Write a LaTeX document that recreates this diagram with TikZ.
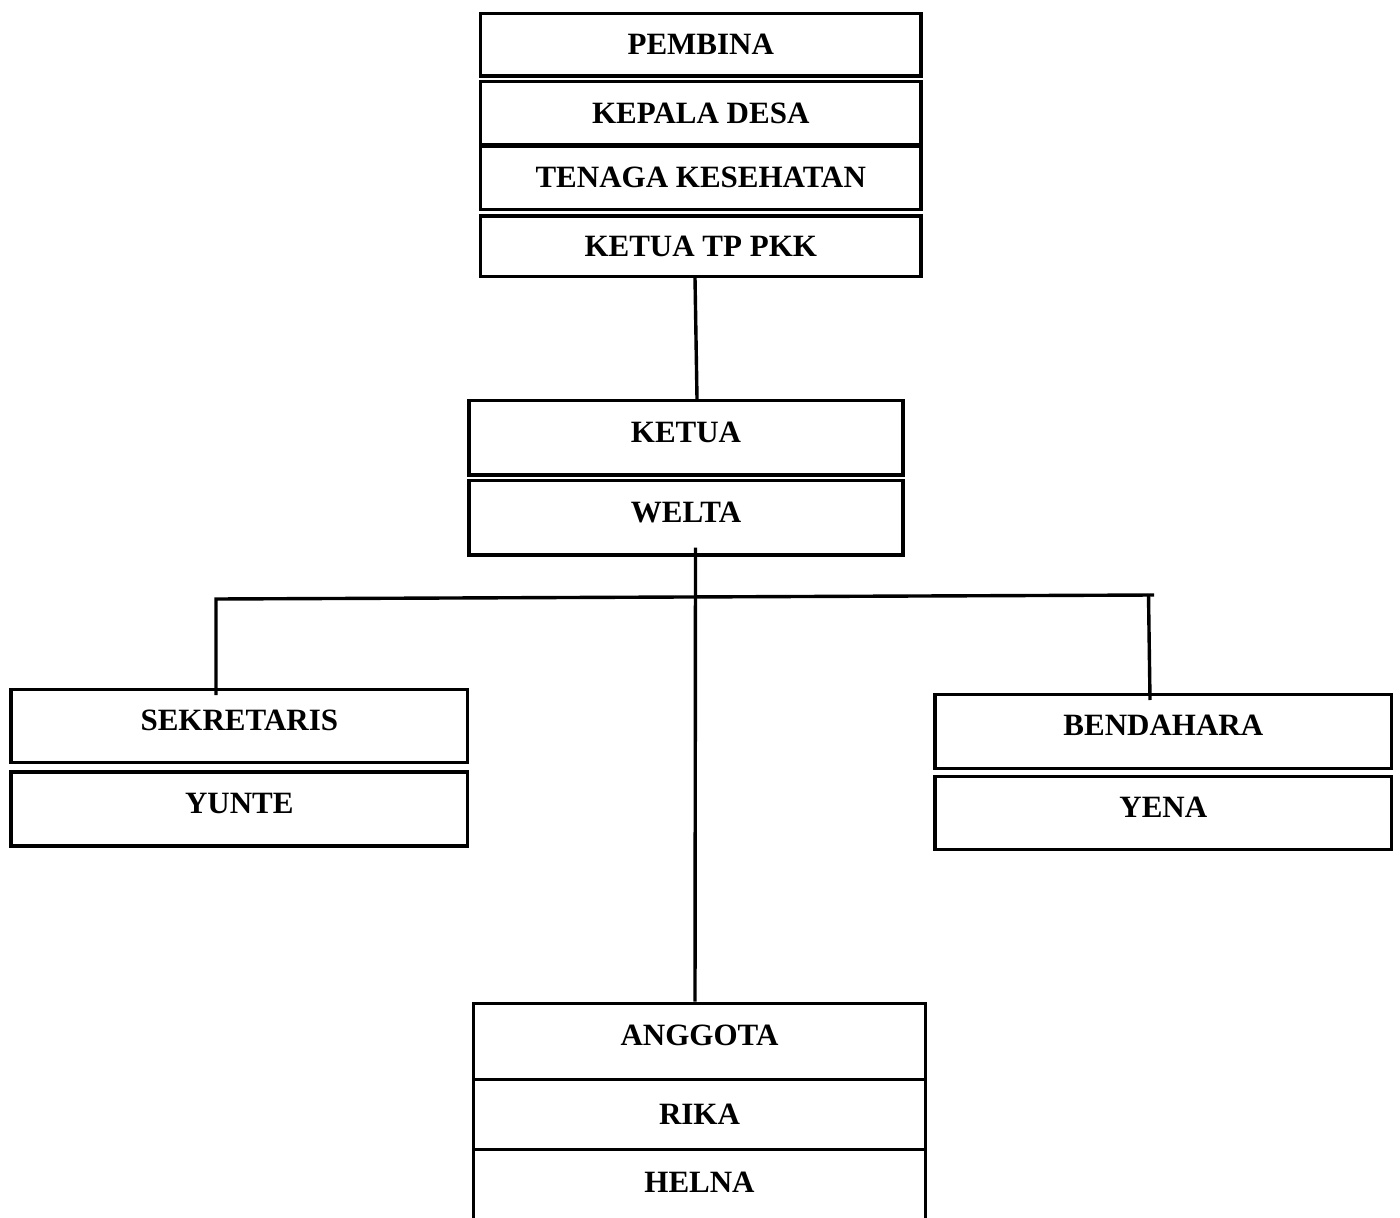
\documentclass[tikz,border=0pt]{standalone}
\usepackage{fontspec}
\setmainfont{Liberation Serif}

\begin{document}
\begin{tikzpicture}[x=0.5pt,y=-0.5pt,line width=1.7pt,
  every node/.style={font=\fontsize{15.5}{18}\selectfont\bfseries,inner sep=0pt},
  kotak/.style={draw,rectangle,minimum width=#1},
  naik/.style={text depth=6pt}]
\useasboundingbox (0,0) rectangle (1400,1218);
% pembina
\node[kotak=220.25pt,minimum height=31.25pt] (pembina) at (700.75,44.75) {PEMBINA};
\node[kotak=220.25pt,minimum height=31.75pt] (kades) at (700.75,113.25) {KEPALA DESA};
\node[kotak=220.25pt,minimum height=31.75pt] (nakes) at (700.75,177.75) {TENAGA KESEHATAN};
\node[kotak=220.25pt,minimum height=30.25pt] (ketuapkk) at (700.75,246.25) {KETUA TP PKK};
% ketua
\node[kotak=217pt,naik,minimum height=37.15pt] (ketua) at (686,437.8) {KETUA};
\node[kotak=217pt,naik,minimum height=37.15pt] (welta) at (686,517.8) {WELTA};
% sekretaris
\node[kotak=228.35pt,naik,minimum height=36.7pt] (sekre) at (239.3,726) {SEKRETARIS};
\node[kotak=228.35pt,naik,minimum height=36.85pt] (yunte) at (239.3,809) {YUNTE};
% bendahara
\node[kotak=228.35pt,naik,minimum height=37pt] (bendahara) at (1163.3,731.3) {BENDAHARA};
\node[kotak=228.35pt,naik,minimum height=36.3pt] (yena) at (1163.3,813) {YENA};
% anggota
\node[kotak=226.15pt,naik,minimum height=38pt] (anggota) at (699.5,1041.3) {ANGGOTA};
\node[kotak=226.15pt,minimum height=35pt] (rika) at (699.5,1114.3) {RIKA};
\node[naik,outer sep=0pt,minimum width=226.15pt,minimum height=39pt] (helna) at (699.5,1188.3) {HELNA};
\draw (helna.south west) -- (helna.north west) -- (helna.north east) -- (helna.south east);

\coordinate (kiri) at (216,599);
\coordinate (kanan) at (1154,595);
\coordinate (tiangB) at (1148.5,595.2);

\draw ([xshift=-2.875pt]ketuapkk.south) -- ([xshift=5.5pt]ketua.north);
\draw ([xshift=4.75pt,yshift=4.5pt]welta.south) -- ([xshift=-2.25pt]anggota.north);
\draw ([xshift=-11.65pt,yshift=-3.7pt]sekre.north) -- (kiri) -- (kanan);
\draw ([xshift=-6.65pt,yshift=-3.7pt]bendahara.north) -- (tiangB);
\end{tikzpicture}
\end{document}
